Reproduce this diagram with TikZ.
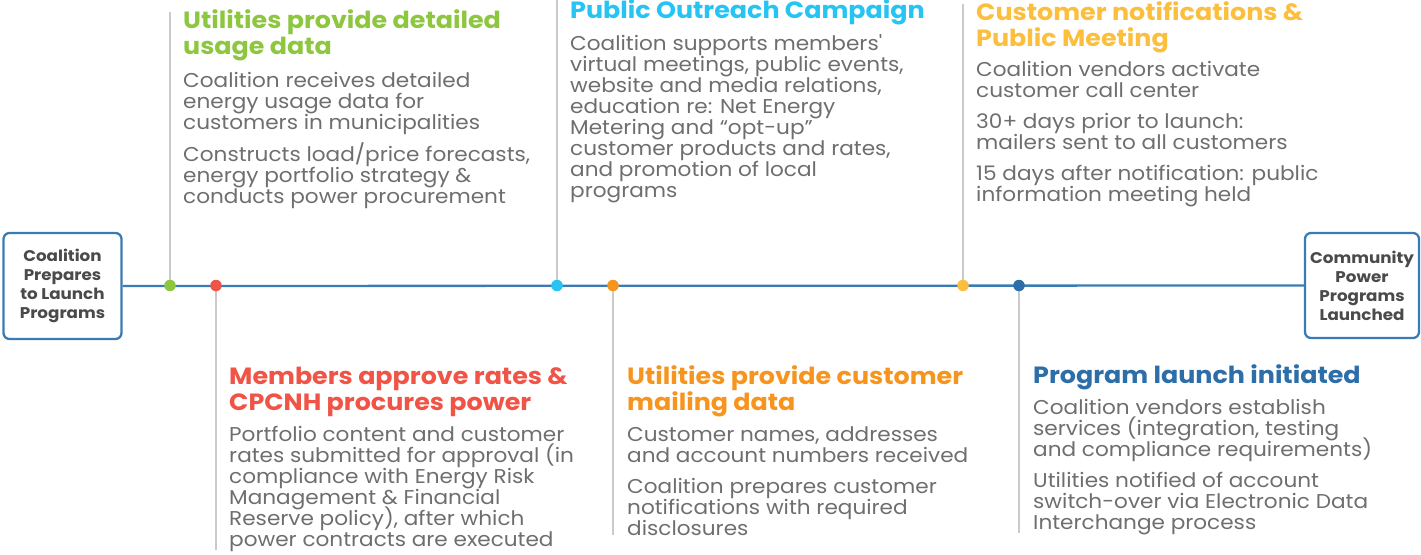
\documentclass[tikz,border=0pt]{standalone}
\usepackage{fontspec}
\setmainfont{Poppins}[FakeStretch=1.08]
\definecolor{tlblue}{HTML}{3B7BB4}
\definecolor{cgreen}{HTML}{8DC63F}
\definecolor{cred}{HTML}{EF5447}
\definecolor{ccyan}{HTML}{26C4F3}
\definecolor{corange}{HTML}{F7941D}
\definecolor{cyellow}{HTML}{FBBE3D}
\definecolor{cdblue}{HTML}{2D6DA8}
\definecolor{bodygray}{HTML}{6E6E6E}
\definecolor{boxgray}{HTML}{4A4A4A}
\definecolor{linegray}{HTML}{CACACA}
\setlength{\lineskiplimit}{-30pt}
\setlength{\lineskip}{0pt}
\begin{document}
\begin{tikzpicture}[x=1pt,y=-1pt,
  endbox/.style={draw=tlblue,line width=2.3pt,rounded corners=6pt,fill=white,
    align=center,text=boxgray,inner sep=0pt,
    font=\bfseries\fontsize{15.5}{19}\selectfont},
  tline/.style={draw=tlblue,line width=2.3pt},
  vline/.style={draw=linegray,line width=2.4pt},
  dot/.style={circle,inner sep=0pt,minimum size=11.5pt},
  head/.style={anchor=base west,align=left,inner sep=0pt,
    font=\bfseries\fontsize{23.5}{26}\selectfont},
  body/.style={anchor=base west,align=left,inner sep=0pt,text=bodygray,
    font=\fontsize{20}{21}\selectfont}]
\useasboundingbox (0,0) rectangle (1421,554);

% end boxes
\node[endbox,minimum width=118pt,minimum height=106pt] (start) at (62.5,286)
  {Coalition\\Prepares\\to Launch\\Programs};
\node[endbox,minimum width=114pt,minimum height=105pt] (finish) at (1362,285.5)
  {Community\\Power\\Programs\\Launched};

% timeline
\draw[tline] (start.east) -- (finish.west);

% milestone points
\coordinate (p1) at (170,285.5);
\coordinate (p2) at (216,285.5);
\coordinate (p3) at (557,285.5);
\coordinate (p4) at (613,285.5);
\coordinate (p5) at (963,285.5);
\coordinate (p6) at (1019,285.5);
\coordinate (e1) at (170,12);
\coordinate (e2) at (216,550);
\coordinate (e3) at (557,0);
\coordinate (e4) at (613,535);
\coordinate (e5) at (963,4);
\coordinate (e6) at (1019,533);
\draw[vline] (e1) -- (p1);
\draw[vline] (e2) -- (p2);
\draw[vline] (e3) -- (p3);
\draw[vline] (e4) -- (p4);
\draw[vline] (e5) -- (p5);
\draw[vline] (e6) -- (p6);
\node[dot,fill=cgreen] (d1) at (p1) {};
\node[dot,fill=cred] (d2) at (p2) {};
\node[dot,fill=ccyan] (d3) at (p3) {};
\node[dot,fill=corange] (d4) at (p4) {};
\node[dot,fill=cyellow] (d5) at (p5) {};
\node[dot,fill=cdblue] (d6) at (p6) {};

% block 1 (anchors at the baseline of the last line)
\node[head,text=cgreen] (h1) at (183,54) {Utilities provide detailed\\usage data};
\node[body] (b1a) at (183,129) {Coalition receives detailed\\energy usage data for\\customers in municipalities};
\node[body] (b1b) at (183,203) {Constructs load/price forecasts,\\energy portfolio strategy \&\\conducts power procurement};

% block 2
\node[head,text=cred] (h2) at (229,410) {Members approve rates \&\\CPCNH procures power};
\node[body] (b2a) at (229,546) {Portfolio content and customer\\rates submitted for approval (in\\compliance with Energy Risk\\Management \& Financial\\Reserve policy), after which\\power contracts are executed};

% block 3
\node[head,text=ccyan] (h3) at (570,19) {Public Outreach Campaign};
\node[body] (b3a) at (570,197) {Coalition supports members\textquotesingle\\virtual meetings, public events,\\website and media relations,\\education re: Net Energy\\Metering and “opt-up”\\customer products and rates,\\and promotion of local\\programs};

% block 4
\node[head,text=corange] (h4) at (627,410) {Utilities provide customer\\mailing data};
\node[body] (b4a) at (627,462) {Customer names, addresses\\and account numbers received};
\node[body] (b4b) at (627,535) {Coalition prepares customer\\notifications with required\\disclosures};

% block 5
\node[head,text=cyellow] (h5) at (976,46) {Customer notifications \&\\Public Meeting};
\node[body] (b5a) at (976,97) {Coalition vendors activate\\customer call center};
\node[body] (b5b) at (976,149) {30+ days prior to launch:\\mailers sent to all customers};
\node[body] (b5c) at (976,201) {15 days after notification: public\\information meeting held};

% block 6
\node[head,text=cdblue] (h6) at (1033,383) {Program launch initiated};
\node[body] (b6a) at (1033,456) {Coalition vendors establish\\services (integration, testing\\and compliance requirements)};
\node[body] (b6b) at (1033,529) {Utilities notified of account\\switch-over via Electronic Data\\Interchange process};
\end{tikzpicture}
\end{document}
